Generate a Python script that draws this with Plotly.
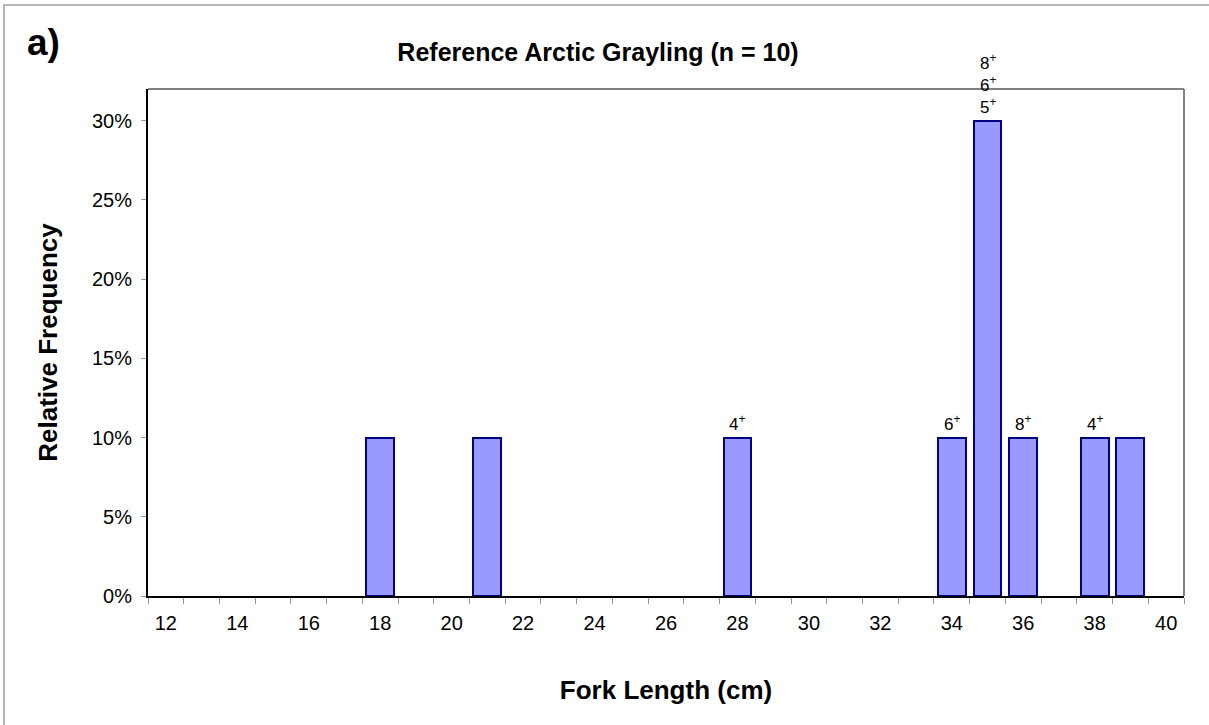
import plotly.graph_objects as go

lengths = [18, 21, 28, 34, 35, 36, 38, 39]
freq = [0.10, 0.10, 0.10, 0.10, 0.30, 0.10, 0.10, 0.10]
age_labels = ["", "", "4<sup>+</sup>", "6<sup>+</sup>", "8<sup>+</sup><br>6<sup>+</sup><br>5<sup>+</sup>", "8<sup>+</sup>", "4<sup>+</sup>", ""]
x_ticks = list(range(12, 41, 2))
y_ticks = [0, 0.05, 0.10, 0.15, 0.20, 0.25, 0.30]

W, H = 1209, 725
L, R, T, B = 148, 25, 89, 129
pw, ph = W - L - R, H - T - B

font = "Liberation Sans, Arial, sans-serif"

fig = go.Figure()
fig.add_trace(go.Bar(
    x=lengths, y=freq, width=0.78,
    marker=dict(color="#9999FF", line=dict(color="#000080", width=2)),
    showlegend=False, hoverinfo="skip",
))

annotations = []
for xv, yv, lab in zip(lengths, freq, age_labels):
    if lab:
        annotations.append(dict(x=xv, y=yv, xref="x", yref="y", text=lab, showarrow=False,
                                yanchor="bottom", yshift=2, font=dict(size=17, color="black", family=font)))

annotations.append(dict(x=(25 - L) / pw, y=1 + (T - 43) / ph, xref="paper", yref="paper", text="<b>a)</b>",
                        showarrow=False, xanchor="left", yanchor="middle",
                        font=dict(size=37, color="black", family=font)))

fig.update_layout(
    width=W, height=H,
    margin=dict(l=L, r=R, t=T, b=B),
    paper_bgcolor="white", plot_bgcolor="white",
    font=dict(family=font, color="black", size=20),
    title=dict(text="<b>Reference Arctic Grayling (n = 10)</b>", x=598 / W, xanchor="center",
               y=1 - 52 / H, yanchor="middle", font=dict(size=25, family=font)),
    annotations=annotations,
    bargap=0,
    xaxis=dict(
        range=[11.5, 40.5], tickmode="array", tickvals=x_ticks, ticktext=[str(v) for v in x_ticks],
        ticks="", showgrid=False, zeroline=False,
        showline=True, linecolor="black", linewidth=2, mirror=False,
        minor=dict(tick0=11.5, dtick=1, ticks="outside", ticklen=6, tickcolor="#999999", showgrid=False),
        tickfont=dict(size=20, family=font), ticklabelstandoff=8,
        title=dict(text="<b>Fork Length (cm)</b>", font=dict(size=26, family=font), standoff=48),
    ),
    yaxis=dict(
        range=[0, 0.32], tickmode="array", tickvals=y_ticks, tickformat=".0%",
        ticks="outside", ticklen=5, tickcolor="#999999", showgrid=False, zeroline=False,
        showline=True, linecolor="black", linewidth=2,
        tickfont=dict(size=20, family=font), ticklabelstandoff=5,
        title=dict(text="<b>Relative Frequency</b>", font=dict(size=26, family=font), standoff=27),
    ),
    shapes=[
        dict(type="line", xref="paper", yref="paper", x0=0, x1=1, y0=1, y1=1,
             line=dict(color="#808080", width=2)),
        dict(type="line", xref="paper", yref="paper", x0=1, x1=1, y0=0, y1=1,
             line=dict(color="#808080", width=2)),
        dict(type="rect", xref="paper", yref="paper",
             x0=(4 - L) / pw, x1=(1215 - L) / pw, y0=(H - B - 730) / ph, y1=(H - B - 5) / ph,
             line=dict(color="#A0A0A0", width=1.5), layer="below"),
    ],
)

fig.write_html("out.html")
